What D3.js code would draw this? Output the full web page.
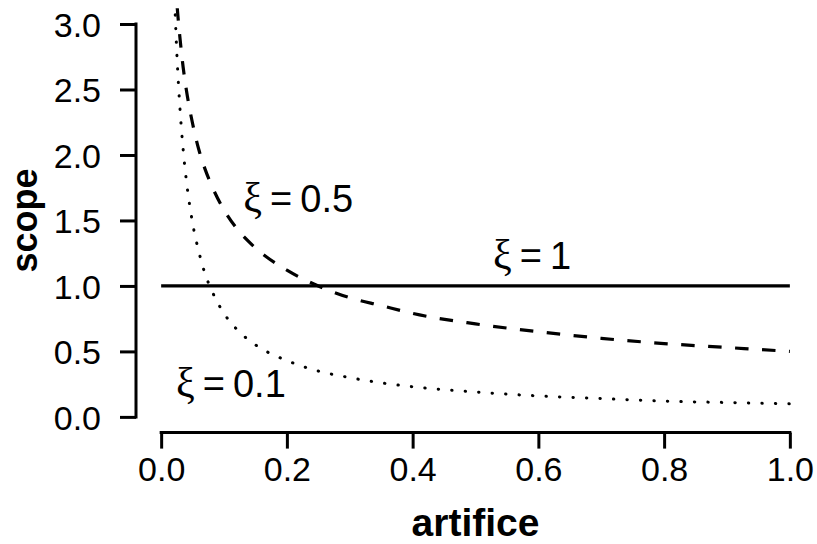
<!DOCTYPE html>
<html>
<head>
<meta charset="utf-8">
<script src="https://cdn.jsdelivr.net/npm/d3@7"></script>
<style>
  body { margin: 0; background: #fff; }
  text { font-family: "Liberation Sans", Arial, sans-serif; }
</style>
</head>
<body>
<div id="my_dataviz"></div>
<script>
// values
var artifice = [0.02, 0.025, 0.03, 0.035, 0.04, 0.05, 0.06, 0.07, 0.08, 0.1, 0.12, 0.15,
                0.2, 0.25, 0.3, 0.35, 0.4, 0.5, 0.6, 0.7, 0.8, 0.9, 1.0];
var scopeXi05 = [3.54, 3.16, 2.89, 2.67, 2.5, 2.24, 2.04, 1.89, 1.77, 1.58, 1.44, 1.29,
                 1.12, 1.0, 0.91, 0.85, 0.79, 0.71, 0.65, 0.60, 0.56, 0.53, 0.5];
var scopeXi01 = [3.38, 2.77, 2.35, 2.04, 1.81, 1.48, 1.26, 1.09, 0.97, 0.79, 0.67, 0.55,
                 0.43, 0.35, 0.30, 0.26, 0.23, 0.19, 0.16, 0.14, 0.12, 0.11, 0.10];
var flatX = [0, 1];
var flatY = [1, 1];
var xTicks = [0, 0.2, 0.4, 0.6, 0.8, 1.0];
var yTicks = [0, 0.5, 1, 1.5, 2, 2.5, 3];
var curveLabels = ["0.5", "1", "0.1"];
var labelX = [0.218, 0.59, 0.111];
var labelY = [1.67, 1.23, 0.26];

var W = 817, H = 544;

var svg = d3.select("#my_dataviz")
            .append("svg")
            .attr("width", W)
            .attr("height", H);

// R style: 4% padding around the data range
var x = d3.scaleLinear().domain([-0.04, 1.04]).range([136, 815]);
var y = d3.scaleLinear().domain([-0.12, 3.12]).range([432.6, 8.3]);

svg.append("clipPath").attr("id", "plotclip")
   .append("rect")
   .attr("x", x(-0.04)).attr("y", y(3.12))
   .attr("width", x(1.04) - x(-0.04)).attr("height", y(-0.12) - y(3.12));

var plot = svg.append("g").attr("clip-path", "url(#plotclip)");

var line = d3.line()
  .x(function (d) { return x(d[0]); })
  .y(function (d) { return y(d[1]); })
  .curve(d3.curveMonotoneX);

plot.append("path")
    .datum(d3.zip(flatX, flatY))
    .attr("d", line)
    .attr("fill", "none")
    .attr("stroke", "#000")
    .attr("stroke-width", 3.2);

plot.append("path")
    .datum(d3.zip(artifice, scopeXi05))
    .attr("d", line)
    .attr("fill", "none")
    .attr("stroke", "#000")
    .attr("stroke-width", 3.2)
    .attr("stroke-dasharray", "13.5,13.5");

plot.append("path")
    .datum(d3.zip(artifice, scopeXi01))
    .attr("d", line)
    .attr("fill", "none")
    .attr("stroke", "#000")
    .attr("stroke-width", 3)
    .attr("stroke-linecap", "round")
    .attr("stroke-dasharray", "0.4,13.1");

// axes
var xAxis = svg.append("g")
  .attr("transform", "translate(0," + y(-0.12) + ")")
  .call(d3.axisBottom(x).tickValues(xTicks).tickSize(16).tickPadding(8)
          .tickFormat(d3.format(".1f")));
var yAxis = svg.append("g")
  .attr("transform", "translate(" + x(-0.04) + ",0)")
  .call(d3.axisLeft(y).tickValues(yTicks).tickSize(16).tickPadding(19)
          .tickFormat(d3.format(".1f")));

[xAxis, yAxis].forEach(function (a) {
  a.select(".domain").remove();
  a.selectAll(".tick line").attr("stroke", "#000").attr("stroke-width", 3);
  a.selectAll(".tick text")
   .attr("fill", "#000")
   .style("font-family", "Liberation Sans, Arial, sans-serif")
   .style("font-size", "34px");
});
yAxis.selectAll(".tick text").attr("dy", "0.36em");
xAxis.selectAll(".tick text").attr("dy", "0.71em");

// axis lines only span the tick range
svg.append("line")
   .attr("x1", x(0) - 1.5).attr("x2", x(1) + 1.5)
   .attr("y1", y(-0.12)).attr("y2", y(-0.12))
   .attr("stroke", "#000").attr("stroke-width", 3);
svg.append("line")
   .attr("x1", x(-0.04)).attr("x2", x(-0.04))
   .attr("y1", y(0) + 1.5).attr("y2", y(3) - 1.5)
   .attr("stroke", "#000").attr("stroke-width", 3);

// axis titles
svg.append("text")
   .attr("text-anchor", "middle")
   .attr("x", x(0.5))
   .attr("y", 536)
   .style("font-weight", "bold")
   .style("font-size", "39px")
   .text("artifice");

svg.append("text")
   .attr("text-anchor", "middle")
   .attr("transform", "translate(37," + y(1.5) + ") rotate(-90)")
   .style("font-weight", "bold")
   .style("font-size", "36px")
   .text("scope");

// curve labels
curveLabels.forEach(function (lab, i) {
  var t = svg.append("text")
     .attr("text-anchor", "middle")
     .attr("x", x(labelX[i]))
     .attr("y", y(labelY[i]))
     .attr("dy", "0.36em")
     .style("font-size", "38px");
  t.append("tspan").style("font-family", "Liberation Serif, serif")
   .style("font-size", "42px").text("\u03BE");
  t.append("tspan").attr("dx", 8).text("=");
  t.append("tspan").attr("dx", 8).text(lab);
});
</script>
</body>
</html>
